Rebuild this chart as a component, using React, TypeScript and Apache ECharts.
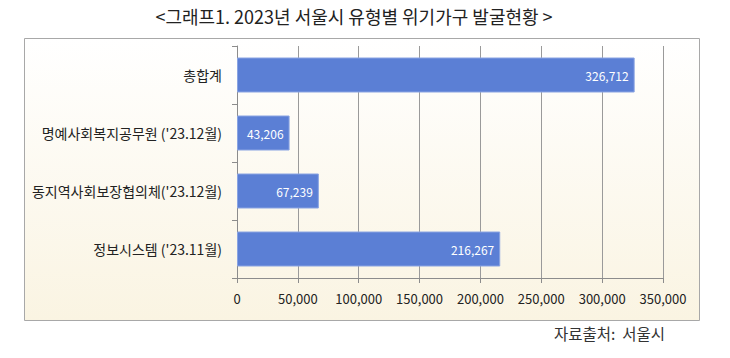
import React, { useEffect, useRef } from "react";
import * as echarts from "echarts";

const categories = [
  "총합계",
  "명예사회복지공무원 ('23.12월)",
  "동지역사회보장협의체('23.12월)",
  "정보시스템 ('23.11월)",
];
const values = [326712, 43206, 67239, 216267];
const titleText = "<그래프1. 2023년 서울시 유형별 위기가구 발굴현황 >";
const sourceText = "자료출처:  서울시";

export default function App() {
  const ref = useRef<HTMLDivElement>(null);
  useEffect(() => {
    if (!ref.current) return;
    const chart = echarts.init(ref.current, null, { renderer: "svg" });
    const font = "'Noto Sans CJK KR', 'Noto Sans', sans-serif";
    chart.setOption({
      animation: false,
      backgroundColor: "#ffffff",
      graphic: [
        {
          type: "rect",
          z: -10,
          silent: true,
          shape: { x: 24.5, y: 38.5, width: 675, height: 282 },
          style: {
            fill: new echarts.graphic.LinearGradient(0, 0, 0, 1, [
              { offset: 0, color: "#ffffff" },
              { offset: 1, color: "#faf4e2" },
            ]),
            stroke: "#a8a8a8",
            lineWidth: 1,
          },
        },
        {
          type: "text",
          x: 354,
          y: 16,
          style: {
            text: titleText,
            fill: "#222",
            font: `18px ${font}`,
            align: "center",
            verticalAlign: "middle",
          },
        },
        {
          type: "text",
          x: 665,
          y: 333,
          style: {
            text: sourceText,
            fill: "#333",
            font: `15.5px ${font}`,
            align: "right",
            verticalAlign: "middle",
          },
        },
      ],
      grid: { left: 237, right: 67, top: 46, bottom: 80, containLabel: false },
      xAxis: {
        type: "value",
        min: 0,
        max: 350000,
        interval: 50000,
        axisLine: { show: true, lineStyle: { color: "#8c8c8c" } },
        axisTick: { show: true, length: 5, lineStyle: { color: "#8c8c8c" } },
        splitLine: { show: true, lineStyle: { color: "#9a9a9a", width: 1 } },
        axisLabel: {
          color: "#222",
          fontSize: 13,
          fontFamily: font,
          margin: 14,
          formatter: (v: number) => v.toLocaleString("en-US"),
        },
      },
      yAxis: {
        type: "category",
        data: categories,
        inverse: true,
        axisLine: { show: true, lineStyle: { color: "#8c8c8c" } },
        axisTick: { show: true, length: 5, lineStyle: { color: "#8c8c8c" } },
        axisLabel: { color: "#222", fontSize: 14, fontFamily: font, margin: 15 },
      },
      series: [
        {
          type: "bar",
          data: values,
          barWidth: 35,
          itemStyle: { color: "#5b7fd5", borderColor: "#8aa4e2", borderWidth: 1 },
          label: {
            show: true,
            position: "insideRight",
            color: "#ffffff",
            fontSize: 12,
            fontFamily: font,
            distance: 6,
            formatter: (p: any) => Number(p.value).toLocaleString("en-US"),
          },
        },
      ],
    });
    return () => chart.dispose();
  }, []);
  return (
    <div
      ref={ref}
      style={{ position: "fixed", left: 0, top: 0, width: 730, height: 358 }}
    />
  );
}
